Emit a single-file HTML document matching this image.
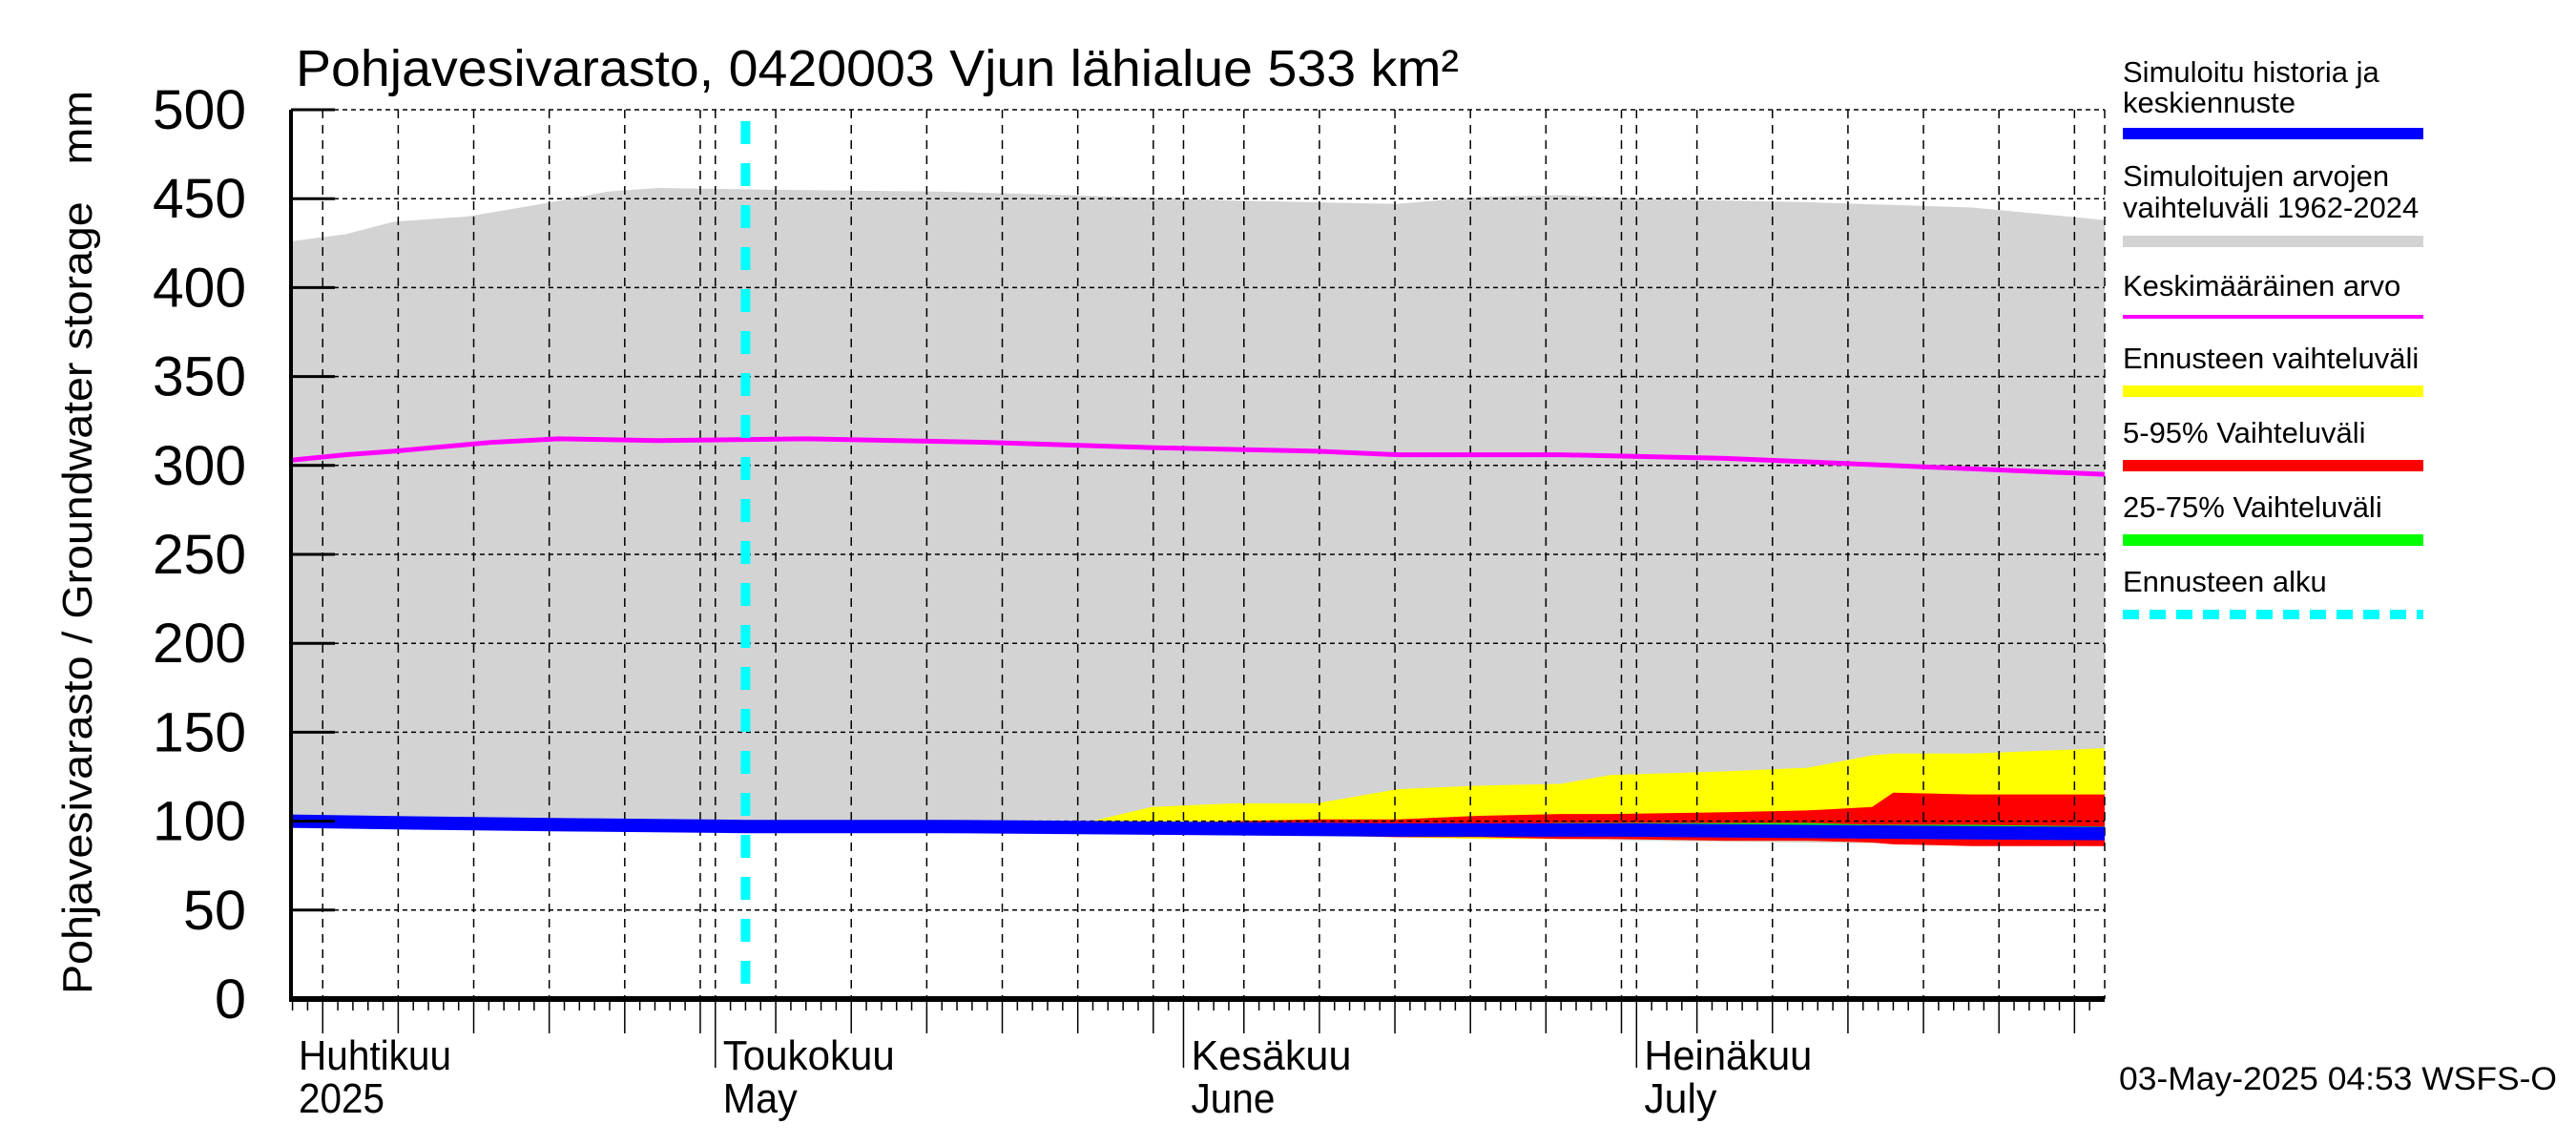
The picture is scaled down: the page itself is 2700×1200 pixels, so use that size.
<!DOCTYPE html>
<html><head><meta charset="utf-8">
<style>
html,body{margin:0;padding:0;background:#fff;}
svg{display:block;}
text{font-family:"Liberation Sans",sans-serif;fill:#000;}
.lg{font-family:"Liberation Sans",sans-serif;font-size:31px;}
</style></head>
<body>
<svg id="chart" width="2700" height="1200" viewBox="0 0 2700 1200" xmlns="http://www.w3.org/2000/svg">
<text x="310" y="90" font-size="54" textLength="1219" lengthAdjust="spacingAndGlyphs">Pohjavesivarasto, 0420003 Vjun lähialue 533 km²</text>
<text transform="translate(96,1042) rotate(-90)" font-size="44" xml:space="preserve" textLength="947" lengthAdjust="spacingAndGlyphs">Pohjavesivarasto / Groundwater storage   mm</text>
<g id="plot"></g>
<g id="legend">
 <text class="lg" x="2225" y="86">Simuloitu historia ja</text>
 <text class="lg" x="2225" y="118">keskiennuste</text>
 <rect x="2225" y="134" width="315" height="12" fill="#0000ff"/>
 <text class="lg" x="2225" y="195">Simuloitujen arvojen</text>
 <text class="lg" x="2225" y="228">vaihteluväli 1962-2024</text>
 <rect x="2225" y="247" width="315" height="12" fill="#d3d3d3"/>
 <text class="lg" x="2225" y="310">Keskimääräinen arvo</text>
 <rect x="2225" y="330" width="315" height="4" fill="#ff00ff"/>
 <text class="lg" x="2225" y="386">Ennusteen vaihteluväli</text>
 <rect x="2225" y="404" width="315" height="12" fill="#ffff00"/>
 <text class="lg" x="2225" y="464">5-95% Vaihteluväli</text>
 <rect x="2225" y="482" width="315" height="12" fill="#ff0000"/>
 <text class="lg" x="2225" y="542">25-75% Vaihteluväli</text>
 <rect x="2225" y="560" width="315" height="12" fill="#00ff00"/>
 <text class="lg" x="2225" y="620">Ennusteen alku</text>
 <line x1="2225" y1="644" x2="2540" y2="644" stroke="#00ffff" stroke-width="10" stroke-dasharray="17,11"/>
</g>
<text x="2221" y="1142" font-size="34" textLength="459" lengthAdjust="spacingAndGlyphs">03-May-2025 04:53 WSFS-O</text>
</svg>
<script>
// days since April 1, 2025
const greyDays=[1.9,5.5,8.7,13.6,18.5,22.9,26.2,33.8,44.7,53.4,64.3,75.1,80.6,86.0,91.5,102.3,113.2,122];
const greyHigh=[426,430,437,440,447,454,456,455,454,452,449,447,451,452,450,448,445,438];
const greyLow=[97,97,96,96,95,95,95,94,94,93,92,91,90,90,89,88,87,86];
const meanDays=[1.9,5.5,8.7,15.2,19.6,26.2,36.0,48.0,58.9,69.8,75.2,86.0,96.9,107.8,122];
const meanVals=[303,306,308,313,315,314,315,313,310,308,306,306,304,300,295];
const fcDays=[32,53.4,58.9,64.3,69.8,75.2,80.6,86.0,89.3,96.9,102.3,106.6,108.0,113.2,122];
const yelHigh=[97,97,108,110,110,118,120,121,126,128,130,137,138,138,141];
const yelLow=[96,95,94,93,92,91,90,90,90,89,89,88,88,88,88];
const redHigh=[97,97,99,100,101,101,103,104,104,105,106,108,116,115,115];
const redLow=[96,95,94,93,92,91,91,90,90,89,89,88,87,86,86];
const grnHigh=[97,97,97,97,97,98,98,99,99,99,99,98,98,98,97];
const grnLow=[96,95,95,94,94,93,93,93,93,92,92,92,92,91,91];
const blueDays=[1.9,10,20,32,45,60,75,90,105,122];
const blueVals=[100,99,98,97,97,96,95,95,94,93];
const forecastStart=32;
const yTicks=[0,50,100,150,200,250,300,350,400,450,500];
const months=[{d:0,a:"Huhtikuu",b:"2025"},{d:30,a:"Toukokuu",b:"May"},{d:61,a:"Kesäkuu",b:"June"},{d:91,a:"Heinäkuu",b:"July"}];

const X0=305,X1=2206,Y0=1047,Y1=115,D0=1.9,D1=122;
const x=d=>X0+(d-D0)/(D1-D0)*(X1-X0);
const y=v=>Y0-v/500*(Y0-Y1);
const NS="http://www.w3.org/2000/svg";
const plot=document.getElementById('plot');
function mk(tag,attrs,parent){const e=document.createElementNS(NS,tag);for(const k in attrs)e.setAttribute(k,attrs[k]);(parent||plot).appendChild(e);return e;}
function band(days,hi,lo,fill,name){
  let p="M"+days.map((d,i)=>x(d)+","+y(hi[i])).join(" L");
  for(let i=days.length-1;i>=0;i--)p+=" L"+x(days[i])+","+y(lo[i]);
  const e=mk('path',{d:p+"Z",fill:fill});
  
  
}
function line(days,vals,stroke,w,name){
  const e=mk('path',{d:"M"+days.map((d,i)=>x(d)+","+y(vals[i])).join(" L"),fill:"none",stroke:stroke,'stroke-width':w});
  
  
}
band(greyDays,greyHigh,greyLow,"#d3d3d3","simulated-range-band");
band(fcDays,yelHigh,yelLow,"#ffff00","forecast-range-band");
band(fcDays,redHigh,redLow,"#ff0000","band-5-95");
band(fcDays,grnHigh,grnLow,"#00ff00","band-25-75");
for(const v of yTicks){
  const g=mk('line',{x1:X0,x2:X1,y1:y(v),y2:y(v),stroke:"#000","stroke-width":1.5,"stroke-dasharray":"5,4"});
  
  
}
const mlen=[30,31,30,31];
for(let m=0;m<4;m++){
  const base=months[m].d;
  for(let dd=0;dd<mlen[m];dd++){
    const d=base+dd;
    if(d<D0||d>D1)continue;
    const day=dd+1;
    const xx=x(d);
    if(day===1||day%5===0){
      const g=mk('line',{x1:xx,x2:xx,y1:Y1,y2:Y0,stroke:"#000","stroke-width":1.5,"stroke-dasharray":"9,7"});
      
      
    }
    const len=day===1?72:(day%5===0?36:12);
    const t=mk('line',{x1:xx,x2:xx,y1:Y0,y2:Y0+len,stroke:"#000","stroke-width":1.5});
    
    
  }
}
{const g=mk('line',{x1:X1,x2:X1,y1:Y1,y2:Y0,stroke:"#000","stroke-width":1.5,"stroke-dasharray":"9,7"});}
line(meanDays,meanVals,"#ff00ff",5,"mean-line");
line(blueDays,blueVals,"#0000ff",14,"simulated-history-line");
{const c=mk('line',{x1:x(forecastStart),x2:x(forecastStart),y1:Y1+12,y2:Y0,stroke:"#00ffff","stroke-width":10,"stroke-dasharray":"24,20"});

}
{const a=mk('line',{x1:X0,x2:X0,y1:Y1,y2:Y0+2,stroke:"#000","stroke-width":4});}
{const a=mk('line',{x1:X0-2,x2:X1,y1:Y0,y2:Y0,stroke:"#000","stroke-width":6});}
for(const v of yTicks){
  const t=mk('line',{x1:X0,x2:X0+46,y1:y(v),y2:y(v),stroke:"#000","stroke-width":3});
  
  
  const s=String(v);
  const w=s.length===3?98:(s.length===2?66:33);
  const l=mk('text',{x:258-w,y:y(v)+20,"font-size":"58",textLength:w,lengthAdjust:"spacingAndGlyphs"});
  l.textContent=s;
  
  
}
const subW={"2025":90,"May":78,"June":88,"July":76};
const mainW={"Huhtikuu":160,"Toukokuu":180,"Kesäkuu":168,"Heinäkuu":176};
for(const m of months){
  const xx=Math.max(x(m.d),X0)+8;
  const a=mk('text',{x:xx,y:1121,"font-size":"44",textLength:mainW[m.a],lengthAdjust:"spacingAndGlyphs"});a.textContent=m.a;
  
  
  const b=mk('text',{x:xx,y:1166,"font-size":"44",textLength:subW[m.b],lengthAdjust:"spacingAndGlyphs"});b.textContent=m.b;
  
  
}
</script>
</body></html>
